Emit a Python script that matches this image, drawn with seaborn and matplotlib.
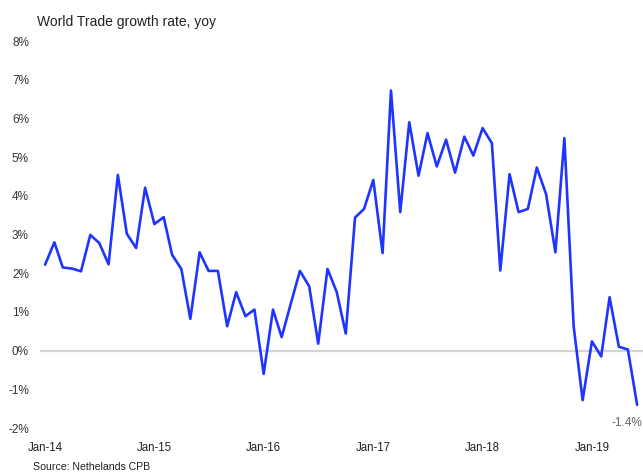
import matplotlib
matplotlib.use("Agg")
import matplotlib.pyplot as plt
from matplotlib import font_manager
import pandas as pd
import seaborn as sns

# World trade growth, yoy (%), monthly Jan-2014 .. Jun-2019
months = pd.date_range("2014-01-01", "2019-06-01", freq="MS")
growth = [
    2.22, 2.80, 2.15, 2.12, 2.05, 2.99, 2.78, 2.23, 4.54, 3.02, 2.65, 4.21,
    3.27, 3.45, 2.48, 2.11, 0.82, 2.54, 2.06, 2.06, 0.63, 1.51, 0.89, 1.06,
    -0.60, 1.06, 0.35, 1.23, 2.06, 1.66, 0.18, 2.11, 1.51, 0.44, 3.44, 3.66,
    4.41, 2.52, 6.72, 3.58, 5.90, 4.52, 5.62, 4.76, 5.45, 4.60, 5.53, 5.04,
    5.75, 5.36, 2.07, 4.56, 3.58, 3.66, 4.73, 4.04, 2.54, 5.49, 0.63, -1.28,
    0.24, -0.15, 1.38, 0.10, 0.03, -1.40,
]
tick_dates = pd.to_datetime(["2014-01-01", "2015-01-01", "2016-01-01",
                             "2017-01-01", "2018-01-01", "2019-01-01"])
tick_labels = ["Jan-14", "Jan-15", "Jan-16", "Jan-17", "Jan-18", "Jan-19"]
y_ticks = list(range(-2, 9))

df = pd.DataFrame({"month": months, "growth": growth})

sns.set_theme(style="white")
installed = {f.name for f in font_manager.fontManager.ttflist}
families = [f for f in ["Liberation Sans Narrow", "Liberation Sans"] if f in installed]
plt.rcParams["font.family"] = families + ["DejaVu Sans"]

fig = plt.figure(figsize=(6.43, 4.75), dpi=100)
ax = fig.add_axes([0.0622, 0.0989, 0.938, 0.8147])

ax.axhline(0, color="#d4d4d4", lw=1.6, zorder=1)
sns.lineplot(data=df, x="month", y="growth", ax=ax, color="#1f35ff", lw=1.9, zorder=3)

ax.set_xlim(months[0] - pd.Timedelta(days=17), months[-1] + pd.Timedelta(days=20))
ax.set_ylim(-2, 8)
ax.set_yticks(y_ticks)
ax.set_yticklabels([f"{v}%" for v in y_ticks])
ax.set_xticks(tick_dates)
ax.set_xticklabels(tick_labels)
ax.tick_params(axis="y", length=0, pad=8, labelsize=8.5, labelcolor="#333333")
ax.tick_params(axis="x", length=0, pad=10, labelsize=8.3, labelcolor="#222222")
ax.set_xlabel("")
ax.set_ylabel("")
for s in ax.spines.values():
    s.set_visible(False)

ax.annotate(f"{growth[-1]:.1f}%", xy=(months[-1], growth[-1]), xytext=(4, -13),
            textcoords="offset points", ha="right", va="center",
            fontsize=8.5, color="#666666")

fig.text(37 / 643, 1 - 22 / 475, "World Trade growth rate, yoy", fontsize=10,
         color="#222222", ha="left", va="center")
fig.text(33 / 643, 1 - 467 / 475, "Source: Nethelands CPB", fontsize=7.6,
         color="#222222", ha="left", va="center")

fig.savefig("out.png", dpi=100)
